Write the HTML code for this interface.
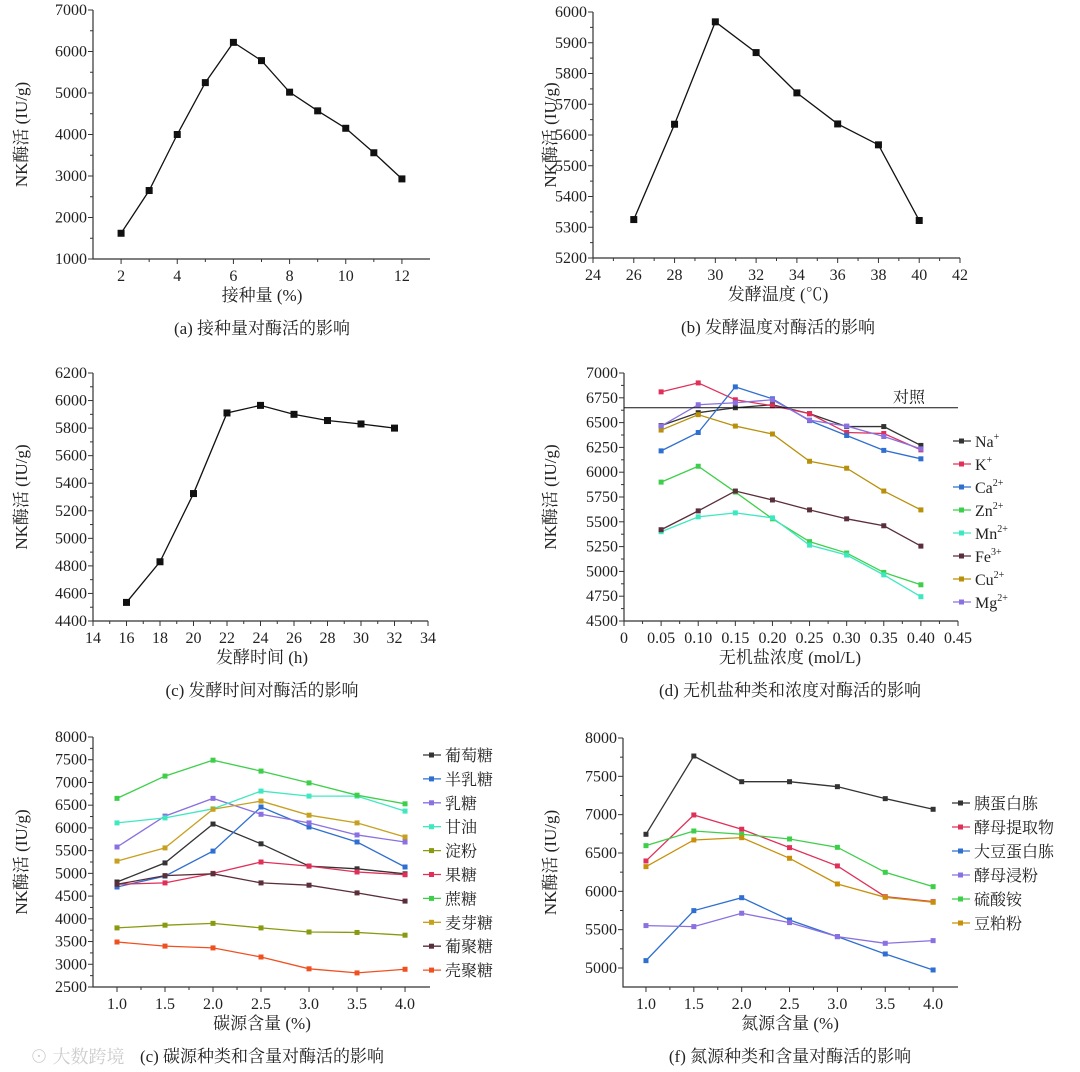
<!DOCTYPE html>
<html><head><meta charset="utf-8">
<style>
html,body{margin:0;padding:0;background:#fff;}
svg{display:block;}
text{font-family:"Liberation Serif","Noto Serif CJK SC","Noto Sans CJK SC",serif;fill:#222;}
</style></head>
<body>
<svg id="fig" width="1080" height="1072" viewBox="0 0 1080 1072" xmlns="http://www.w3.org/2000/svg">
<text x="30" y="1063" font-size="18" style="fill:#ccc" font-family="Liberation Sans, Noto Sans CJK SC, sans-serif">⊙ 大数跨境</text>
</svg>
<script>
// ---- data ----
const aX=[2,3,4,5,6,7,8,9,10,11,12];
const aY=[1620,2650,4000,5250,6220,5780,5020,4570,4150,3560,2930];
const bX=[26,28,30,32,34,36,38,40];
const bY=[5325,5635,5968,5868,5737,5636,5568,5322];
const cX=[16,18,20,22,24,26,28,30,32];
const cY=[4535,4830,5325,5910,5965,5900,5855,5830,5800];
const dX=[0.05,0.1,0.15,0.2,0.25,0.3,0.35,0.4];
const dNames=["Na","K","Ca","Zn","Mn","Fe","Cu","Mg"];
const dSup=["+","+","2+","2+","2+","3+","2+","2+"];
const dNa=[6470,6600,6650,6680,6590,6460,6460,6270];
const dK=[6810,6900,6730,6670,6590,6400,6390,6225];
const dCa=[6215,6400,6860,6740,6520,6370,6220,6135];
const dZn=[5900,6060,5800,5530,5300,5185,4990,4865];
const dMn=[5400,5550,5590,5540,5265,5165,4965,4745];
const dFe=[5420,5610,5810,5720,5620,5530,5460,5255];
const dCu=[6425,6580,6465,6385,6110,6040,5810,5620];
const dMg=[6465,6680,6700,6730,6525,6465,6360,6235];
const dControl=6650;
const eX=[1.0,1.5,2.0,2.5,3.0,3.5,4.0];
const eNames=["葡萄糖","半乳糖","乳糖","甘油","淀粉","果糖","蔗糖","麦芽糖","葡聚糖","壳聚糖"];
const eGlucose=[4810,5230,6085,5650,5160,5100,4990];
const eGalactose=[4700,4940,5490,6460,6020,5690,5140];
const eLactose=[5580,6260,6650,6300,6110,5845,5690];
const eGlycerol=[6110,6220,6420,6810,6700,6700,6370];
const eStarch=[3800,3860,3900,3800,3710,3700,3640];
const eFructose=[4760,4790,5000,5250,5160,5030,4970];
const eSucrose=[6650,7140,7490,7250,6990,6720,6530];
const eMaltose=[5270,5560,6410,6590,6280,6110,5800];
const eDextran=[4760,4950,4990,4790,4740,4570,4390];
const eChitosan=[3490,3400,3360,3160,2900,2810,2890];
const fX=[1.0,1.5,2.0,2.5,3.0,3.5,4.0];
const fNames=["胰蛋白胨","酵母提取物","大豆蛋白胨","酵母浸粉","硫酸铵","豆粕粉"];
const fPeptone=[6744,7765,7430,7430,7365,7209,7070];
const fYeastExt=[6396,6996,6810,6570,6331,5930,5865];
const fSoy=[5096,5748,5917,5626,5409,5183,4974];
const fYeastPow=[5553,5540,5714,5592,5409,5322,5357];
const fAmmonium=[6596,6787,6744,6683,6574,6248,6061];
const fBean=[6322,6670,6700,6431,6096,5922,5857];

const NS="http://www.w3.org/2000/svg";
const svg=document.getElementById('fig');
function mk(tag,attrs,parent){const e=document.createElementNS(NS,tag);for(const k in attrs)e.setAttribute(k,attrs[k]);(parent||svg).appendChild(e);return e;}

function panel(cfg){
  const g=mk('g',{});
  
  
  const sx=v=>cfg.L+(v-cfg.xmin)/(cfg.xmax-cfg.xmin)*(cfg.R-cfg.L);
  const sy=v=>cfg.B-(v-cfg.ymin)/(cfg.ymax-cfg.ymin)*(cfg.B-cfg.T);
  const ax=mk('path',{d:`M${cfg.L},${cfg.T} V${cfg.B} H${cfg.R}`,stroke:'#333','stroke-width':1.2,fill:'none'},g);
  
  
  for(let v=cfg.ymin0;v<=cfg.ymax+1e-6;v+=cfg.ystep){
    const y=sy(v);
    mk('line',{x1:cfg.L-5,x2:cfg.L,y1:y,y2:y,stroke:'#333','stroke-width':1},g);
    const t=mk('text',{x:cfg.L-6,y:y+5,'font-size':16,'text-anchor':'end'},g);
    t.textContent=v;
    
    
    const ym=sy(v+cfg.ystep/2);
    if(v+cfg.ystep/2<=cfg.ymax) mk('line',{x1:cfg.L-3,x2:cfg.L,y1:ym,y2:ym,stroke:'#333','stroke-width':1},g);
  }
  cfg.xticks.forEach((v,i)=>{
    const x=sx(v);
    mk('line',{x1:x,x2:x,y1:cfg.B,y2:cfg.B+5,stroke:'#333','stroke-width':1},g);
    const t=mk('text',{x:x,y:cfg.B+22,'font-size':16,'text-anchor':'middle'},g);
    t.textContent=cfg.xlabels[i];
    
    
    const xm=sx(v+cfg.xminor);
    if(xm<cfg.R-2) mk('line',{x1:xm,x2:xm,y1:cfg.B,y2:cfg.B+3,stroke:'#333','stroke-width':1},g);
  });
  const yt=mk('text',{x:0,y:0,'font-size':17,'text-anchor':'middle',transform:`translate(${cfg.ytx},${(cfg.T+cfg.B)/2}) rotate(-90)`},g);
  yt.textContent='NK酶活 (IU/g)';
  
  
  const xt=mk('text',{x:cfg.xtx,y:cfg.B+42,'font-size':17,'text-anchor':'middle'},g);
  xt.textContent=cfg.xtitle;
  
  
  const cp=mk('text',{x:cfg.xtx,y:cfg.B+75,'font-size':17,'text-anchor':'middle'},g);
  cp.textContent=cfg.caption;
  
  
  cfg.series.forEach((s,si)=>{
    const pts=s.y.map((v,i)=>sx(cfg.x[i])+','+sy(v)).join(' ');
    const pl=mk('polyline',{points:pts,fill:'none',stroke:s.c,'stroke-width':1.3},g);
    
    
    s.y.forEach((v,i)=>{
      const r=mk('rect',{x:sx(cfg.x[i])-cfg.ms/2,y:sy(v)-cfg.ms/2,width:cfg.ms,height:cfg.ms,fill:s.c},g);
      
      
    });
    if(cfg.legend){
      const ly=cfg.legend.y0+si*cfg.legend.dy;
      const lg=mk('g',{},g);
      
      
      mk('line',{x1:cfg.legend.x,x2:cfg.legend.x+18,y1:ly,y2:ly,stroke:s.c,'stroke-width':1.3},lg);
      mk('rect',{x:cfg.legend.x+6,y:ly-2.5,width:5,height:5,fill:s.c},lg);
      const t=mk('text',{x:cfg.legend.x+22,y:ly+6,'font-size':16},lg);
      t.textContent=s.n;
      if(s.sup){const ts=mk('tspan',{dy:-7,'font-size':10},t);ts.textContent=s.sup;}
    }
  });
  return {g,sx,sy};
}
function rng(a,b,s){const r=[];for(let v=a;v<=b+1e-9;v+=s)r.push(+v.toFixed(3));return r;}

panel({name:'panel-a',L:93,R:430,T:10,B:259,xmin:1,xmax:13,ymin:1000,ymin0:1000,ymax:7000,ystep:1000,
  xticks:[2,4,6,8,10,12],xlabels:['2','4','6','8','10','12'],xminor:1,ytx:27,xtx:262,
  xtitle:'接种量 (%)',caption:'(a) 接种量对酶活的影响',x:aX,ms:7,series:[{y:aY,c:'#111'}]});
panel({name:'panel-b',L:593,R:960,T:12,B:258,xmin:24,xmax:42,ymin:5200,ymin0:5200,ymax:6000,ystep:100,
  xticks:rng(24,42,2),xlabels:rng(24,42,2).map(String),xminor:1,ytx:556,xtx:778,
  xtitle:'发酵温度 (℃)',caption:'(b) 发酵温度对酶活的影响',x:bX,ms:7,series:[{y:bY,c:'#111'}]});
panel({name:'panel-c',L:93,R:428,T:373,B:621,xmin:14,xmax:34,ymin:4400,ymin0:4400,ymax:6200,ystep:200,
  xticks:rng(14,34,2),xlabels:rng(14,34,2).map(String),xminor:1,ytx:27,xtx:262,
  xtitle:'发酵时间 (h)',caption:'(c) 发酵时间对酶活的影响',x:cX,ms:7,series:[{y:cY,c:'#111'}]});
const dCols=['#333','#e0305a','#2f6fd0','#3ecf4a','#3de8c0','#5a2e3a','#b8900a','#8a70e0'];
const dSeries=[dNa,dK,dCa,dZn,dMn,dFe,dCu,dMg];
const pd=panel({name:'panel-d',L:624,R:958,T:373,B:621,xmin:0,xmax:0.45,ymin:4500,ymin0:4500,ymax:7000,ystep:250,
  xticks:rng(0,0.45,0.05),xlabels:['0','0.05','0.10','0.15','0.20','0.25','0.30','0.35','0.40','0.45'],xminor:0.025,ytx:556,xtx:790,
  xtitle:'无机盐浓度 (mol/L)',caption:'(d) 无机盐种类和浓度对酶活的影响',x:dX,ms:5,
  legend:{x:953,y0:441,dy:23},series:dSeries.map((y,i)=>({y,c:dCols[i],n:dNames[i],sup:dSup[i]}))});
const cl=mk('line',{x1:624,x2:958,y1:pd.sy(dControl),y2:pd.sy(dControl),stroke:'#111','stroke-width':1});


const ct=mk('text',{x:893,y:pd.sy(dControl)-5,'font-size':16});
ct.textContent='对照';


const eCols=['#333','#2f6fd0','#8a70e0','#40e8c0','#8a9a10','#e0305a','#3ecf4a','#c8a020','#5a2e3a','#f05020'];
const eSeries=[eGlucose,eGalactose,eLactose,eGlycerol,eStarch,eFructose,eSucrose,eMaltose,eDextran,eChitosan];
panel({name:'panel-e',L:93,R:430,T:737,B:987,xmin:0.75,xmax:4.26,ymin:2500,ymin0:2500,ymax:8000,ystep:500,
  xticks:eX,xlabels:eX.map(v=>v.toFixed(1)),xminor:0.25,ytx:27,xtx:262,
  xtitle:'碳源含量 (%)',caption:'(c) 碳源种类和含量对酶活的影响',x:eX,ms:5,
  legend:{x:423,y0:755,dy:23.9},series:eSeries.map((y,i)=>({y,c:eCols[i],n:eNames[i]}))});
const fCols=['#333','#e0305a','#2f6fd0','#8a70e0','#3ecf4a','#c8900a'];
const fSeries=[fPeptone,fYeastExt,fSoy,fYeastPow,fAmmonium,fBean];
panel({name:'panel-f',L:623,R:958,T:738,B:987,xmin:0.76,xmax:4.26,ymin:4752,ymin0:5000,ymax:8000,ystep:500,
  xticks:fX,xlabels:fX.map(v=>v.toFixed(1)),xminor:0.25,ytx:556,xtx:790,
  xtitle:'氮源含量 (%)',caption:'(f) 氮源种类和含量对酶活的影响',x:fX,ms:5,
  legend:{x:952,y0:803,dy:24},series:fSeries.map((y,i)=>({y,c:fCols[i],n:fNames[i]}))});
</script>
</body></html>
